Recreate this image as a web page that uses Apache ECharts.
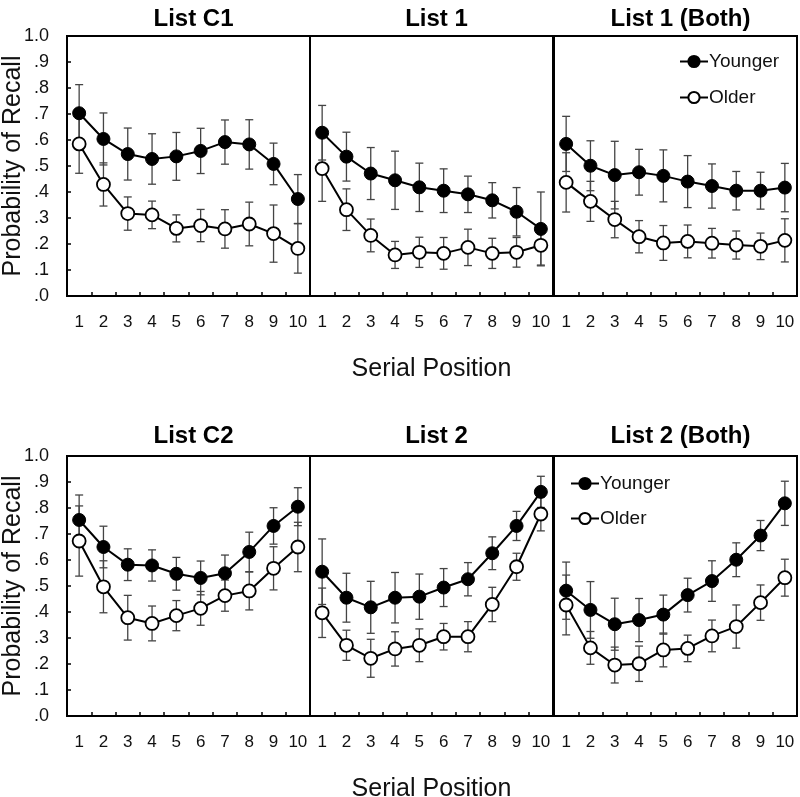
<!DOCTYPE html>
<html>
<head>
<meta charset="utf-8">
<script src="https://cdn.jsdelivr.net/npm/echarts@6/dist/echarts.min.js"></script>
<style>html,body{margin:0;padding:0;background:#fff;}#main{width:800px;height:797px;}</style>
</head>
<body>
<div id="main"></div>
<script>
// ---- Data ----
const positions = ['1','2','3','4','5','6','7','8','9','10'];
const panelTitles = ['List C1','List 1','List 1 (Both)','List C2','List 2','List 2 (Both)'];
const yTickLabels = ['.0','.1','.2','.3','.4','.5','.6','.7','.8','.9','1.0'];
const seriesNames = ['Younger','Older'];

const youngerC1    = [0.703,0.604,0.546,0.527,0.537,0.558,0.592,0.583,0.508,0.373];
const youngerC1Err = [0.110,0.100,0.100,0.097,0.092,0.087,0.085,0.095,0.080,0.094];
const olderC1      = [0.585,0.429,0.317,0.312,0.260,0.271,0.258,0.277,0.240,0.183];
const olderC1Err   = [0.113,0.083,0.064,0.053,0.052,0.062,0.074,0.084,0.110,0.095];

const younger1     = [0.628,0.536,0.471,0.445,0.418,0.405,0.391,0.368,0.324,0.258];
const younger1Err  = [0.105,0.094,0.100,0.112,0.093,0.084,0.070,0.068,0.093,0.142];
const older1       = [0.490,0.332,0.233,0.158,0.168,0.164,0.187,0.164,0.168,0.195];
const older1Err    = [0.126,0.080,0.063,0.052,0.058,0.061,0.070,0.058,0.057,0.076];

const younger1B    = [0.585,0.501,0.465,0.476,0.462,0.440,0.423,0.405,0.405,0.417];
const younger1BErr = [0.106,0.096,0.130,0.088,0.100,0.100,0.085,0.074,0.071,0.093];
const older1B      = [0.437,0.364,0.294,0.228,0.204,0.210,0.203,0.196,0.191,0.214];
const older1BErr   = [0.114,0.077,0.070,0.062,0.067,0.063,0.057,0.054,0.051,0.083];

const youngerC2    = [0.754,0.650,0.582,0.579,0.547,0.531,0.549,0.631,0.731,0.805];
const youngerC2Err = [0.096,0.080,0.061,0.060,0.063,0.065,0.070,0.076,0.070,0.073];
const olderC2      = [0.673,0.497,0.378,0.356,0.386,0.414,0.463,0.481,0.568,0.650];
const olderC2Err   = [0.135,0.100,0.086,0.067,0.058,0.065,0.060,0.073,0.083,0.095];

const younger2     = [0.555,0.455,0.418,0.455,0.459,0.494,0.526,0.626,0.731,0.862];
const younger2Err  = [0.126,0.094,0.100,0.097,0.087,0.073,0.064,0.063,0.056,0.060];
const older2       = [0.397,0.272,0.222,0.258,0.272,0.305,0.305,0.429,0.574,0.777];
const older2Err    = [0.095,0.058,0.073,0.066,0.063,0.051,0.058,0.066,0.052,0.065];

const younger2B    = [0.482,0.408,0.353,0.369,0.390,0.465,0.519,0.601,0.694,0.818];
const younger2BErr = [0.110,0.109,0.100,0.083,0.075,0.065,0.078,0.065,0.058,0.085];
const older2B      = [0.427,0.262,0.196,0.201,0.254,0.260,0.308,0.344,0.436,0.532];
const older2BErr   = [0.115,0.063,0.069,0.068,0.065,0.051,0.061,0.083,0.068,0.071];

const panels = [
  {y: youngerC1, ye: youngerC1Err, o: olderC1, oe: olderC1Err},
  {y: younger1,  ye: younger1Err,  o: older1,  oe: older1Err},
  {y: younger1B, ye: younger1BErr, o: older1B, oe: older1BErr},
  {y: youngerC2, ye: youngerC2Err, o: olderC2, oe: olderC2Err},
  {y: younger2,  ye: younger2Err,  o: older2,  oe: older2Err},
  {y: younger2B, ye: younger2BErr, o: older2B, oe: older2BErr}
];

// ---- Layout ----
const FONT = '"Liberation Sans", Arial, sans-serif';
const lefts = [67, 310, 554];
const tops = [36, 456];
const W = 243, H = 260;

const grids = [], xAxes = [], yAxes = [], series = [], titles = [];
for (let p = 0; p < 6; p++) {
  const row = Math.floor(p / 3), col = p % 3;
  grids.push({left: lefts[col], top: tops[row], width: W, height: H,
    containLabel: false, outerBoundsMode: 'none',
    show: true, borderColor: '#000', borderWidth: 2, backgroundColor: 'transparent'});
  xAxes.push({
    type: 'category', gridIndex: p, data: positions, boundaryGap: true,
    axisLine: {show: true, lineStyle: {color: '#000', width: 2}},
    axisTick: {show: true, inside: true, length: 4, lineStyle: {color: '#000', width: 1.5}},
    axisLabel: {color: '#111', fontSize: 17, fontFamily: FONT, margin: 18, interval: 0, hideOverlap: false},
    name: col === 1 ? 'Serial Position' : '',
    nameLocation: 'middle', nameGap: 61, nameMoveOverlap: false,
    nameTextStyle: {fontSize: 25, color: '#111', fontFamily: FONT}
  });
  yAxes.push({
    type: 'value', gridIndex: p, min: 0, max: 1, interval: 0.1,
    splitLine: {show: false},
    axisLine: {show: true, lineStyle: {color: '#000', width: 2}},
    axisTick: {show: col === 0, inside: true, length: 4, lineStyle: {color: '#000', width: 1.5}},
    axisLabel: {show: col === 0, color: '#111', fontSize: 18, fontFamily: FONT, margin: 18,
      formatter: v => yTickLabels[Math.round(v * 10)]},
    name: col === 0 ? 'Probability of Recall' : '',
    nameLocation: 'middle', nameGap: 41, nameRotate: 90, nameMoveOverlap: false,
    nameTextStyle: {fontSize: 25, color: '#111', fontFamily: FONT}
  });
  titles.push({
    text: panelTitles[p], left: lefts[col] + W / 2, top: row === 0 ? 2 : 419,
    textAlign: 'center',
    textStyle: {fontSize: 24, fontWeight: 'bold', color: '#000', fontFamily: FONT}
  });

  const d = panels[p];
  [[d.y, d.ye], [d.o, d.oe]].forEach(([vals, errs]) => {
    series.push({
      type: 'custom', xAxisIndex: p, yAxisIndex: p, z: 1, silent: true,
      data: vals.map((v, i) => [i, v - errs[i], v + errs[i]]),
      renderItem: function (params, api) {
        const x = api.value(0);
        const lo = api.coord([x, api.value(1)]);
        const hi = api.coord([x, api.value(2)]);
        const c = 4;
        const st = {stroke: '#444', lineWidth: 1.3};
        return {type: 'group', children: [
          {type: 'line', shape: {x1: lo[0], y1: lo[1], x2: hi[0], y2: hi[1]}, style: st},
          {type: 'line', shape: {x1: lo[0] - c, y1: lo[1], x2: lo[0] + c, y2: lo[1]}, style: st},
          {type: 'line', shape: {x1: hi[0] - c, y1: hi[1], x2: hi[0] + c, y2: hi[1]}, style: st}
        ]};
      }
    });
  });
  series.push({
    name: 'Younger', type: 'line', xAxisIndex: p, yAxisIndex: p, z: 3,
    data: d.y, symbol: 'circle', symbolSize: 13, animation: false,
    lineStyle: {color: '#000', width: 2},
    itemStyle: {color: '#000', borderColor: '#000', borderWidth: 1}
  });
  series.push({
    name: 'Older', type: 'line', xAxisIndex: p, yAxisIndex: p, z: 3,
    data: d.o, symbol: 'circle', symbolSize: 13, animation: false,
    lineStyle: {color: '#000', width: 2},
    itemStyle: {color: '#fff', borderColor: '#000', borderWidth: 1.8}
  });
}

const legendCommon = {
  data: seriesNames, orient: 'vertical', itemWidth: 28, itemHeight: 14,
  selectedMode: false,
  textStyle: {fontSize: 19, color: '#111', fontFamily: FONT, padding: [0, 0, 0, -4]}
};

const chart = echarts.init(document.getElementById('main'), null, {renderer: 'canvas'});
chart.setOption({
  animation: false,
  backgroundColor: '#fff',
  title: titles,
  legend: [
    Object.assign({left: 674, top: 47, itemGap: 17}, legendCommon),
    Object.assign({left: 565, top: 469, itemGap: 16}, legendCommon)
  ],
  grid: grids,
  xAxis: xAxes,
  yAxis: yAxes,
  series: series
});
</script>
</body>
</html>
